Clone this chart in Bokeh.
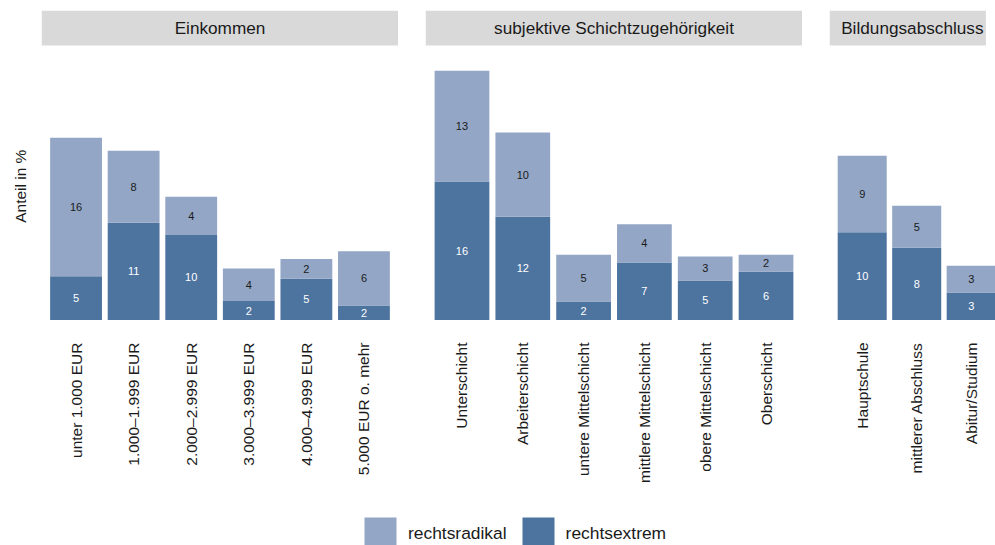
import math
from bokeh.plotting import figure
from bokeh.models import (ColumnDataSource, Range1d, FixedTicker, BoxAnnotation,
                          Label, Legend, LegendItem)
from bokeh.layouts import column, row
from bokeh.core.properties import value
from bokeh.embed import file_html
from bokeh.resources import INLINE

# ---------------- data ----------------
panel_titles = ["Einkommen", "subjektive Schichtzugehörigkeit", "Bildungsabschluss"]

einkommen_cats = ["unter 1.000 EUR", "1.000–1.999 EUR", "2.000–2.999 EUR",
                  "3.000–3.999 EUR", "4.000–4.999 EUR", "5.000 EUR o. mehr"]
einkommen_extrem = [5.1, 11.3, 9.9, 2.2, 4.8, 1.7]
einkommen_radikal = [16.1, 8.4, 4.45, 3.8, 2.3, 6.3]

schicht_cats = ["Unterschicht", "Arbeiterschicht", "untere Mittelschicht",
                "mittlere Mittelschicht", "obere Mittelschicht", "Oberschicht"]
schicht_extrem = [16.1, 12.0, 2.15, 6.7, 4.6, 5.6]
schicht_radikal = [12.9, 9.8, 5.45, 4.45, 2.8, 2.0]

bildung_cats = ["Hauptschule", "mittlerer Abschluss", "Abitur/Studium"]
bildung_extrem = [10.2, 8.4, 3.2]
bildung_radikal = [8.9, 4.9, 3.1]

series_names = ["rechtsradikal", "rechtsextrem"]
y_title = "Anteil in %"

# ---------------- style ----------------
FONT = "Liberation Sans"
LIGHT = "#93a6c5"
DARK = "#4d739f"
STRIP = "#d9d9d9"
TXT = "#1a1a1a"

ROW_H = 500
Y0, Y1 = -1.57, 36.0
STRIP_BOTTOM = 31.92
STRIP_MID = 33.95


def panel(title, cats, ext, rad, width, left, x_end=None, strip_right=None,
          title_x=None):
    n = len(cats)
    xs = list(range(n))
    if x_end is None:
        x_end = n - 1 + 0.6
    tot = [e + r for e, r in zip(ext, rad)]
    src = ColumnDataSource(dict(
        x=xs, ext=ext, rad=rad, tot=tot,
        ext_mid=[e / 2 for e in ext],
        rad_mid=[e + r / 2 for e, r in zip(ext, rad)],
        ext_lbl=[str(round(e)) for e in ext],
        rad_lbl=[str(round(r)) for r in rad],
    ))
    p = figure(width=width, height=ROW_H, x_range=Range1d(-0.6, x_end),
               y_range=Range1d(Y0, Y1), output_backend="svg",
               toolbar_location=None, y_axis_location=None,
               min_border_left=left, min_border_right=0,
               min_border_top=10, min_border_bottom=167)
    p.grid.visible = False
    p.outline_line_color = None
    p.background_fill_color = "white"
    p.border_fill_color = "white"

    p.vbar(x="x", bottom=0, top="ext", width=0.9, fill_color=DARK,
           line_color=None, source=src)
    p.vbar(x="x", bottom="ext", top="tot", width=0.9, fill_color=LIGHT,
           line_color=None, source=src)
    p.text(x="x", y="ext_mid", text="ext_lbl", source=src, text_color="white",
           text_font=value(FONT), text_font_size="11px", text_align="center",
           text_baseline="middle")
    p.text(x="x", y="rad_mid", text="rad_lbl", source=src, text_color=TXT,
           text_font=value(FONT), text_font_size="11px", text_align="center",
           text_baseline="middle")

    ax = p.xaxis[0]
    ax.ticker = FixedTicker(ticks=xs)
    ax.major_label_overrides = {i: c for i, c in enumerate(cats)}
    ax.major_label_orientation = math.pi / 2
    ax.major_label_standoff = 9
    ax.major_tick_out = 0
    ax.major_tick_in = 0
    ax.minor_tick_out = 0
    ax.minor_tick_in = 0
    ax.axis_line_color = None
    ax.major_tick_line_color = None
    ax.minor_tick_line_color = None
    ax.major_label_text_font = FONT
    ax.major_label_text_font_size = "15.5px"
    ax.major_label_text_color = TXT

    if strip_right is None:
        p.add_layout(BoxAnnotation(bottom=STRIP_BOTTOM, fill_color=STRIP,
                                   fill_alpha=1, line_color=None))
    else:
        p.add_layout(BoxAnnotation(bottom=STRIP_BOTTOM, right=strip_right,
                                   fill_color=STRIP, fill_alpha=1,
                                   line_color=None))
    if title_x is None:
        title_x = (-0.6 + x_end) / 2
    p.add_layout(Label(x=title_x, y=STRIP_MID, text=title,
                       text_align="center", text_baseline="middle",
                       text_font=FONT, text_font_size="17.2px", text_color=TXT))
    return p


# y-axis title area
yl = figure(width=41, height=ROW_H, output_backend="svg", toolbar_location=None,
            x_axis_location=None, y_axis_location=None, min_border=0,
            x_range=Range1d(0, 41), y_range=Range1d(0, ROW_H))
yl.outline_line_color = None
yl.grid.visible = False
yl.add_layout(Label(x=28, y=228, angle=math.pi / 2, text=y_title,
                    text_align="center", text_baseline="bottom",
                    text_font=FONT, text_font_size="15.5px", text_color=TXT))

p1 = panel(panel_titles[0], einkommen_cats, einkommen_extrem, einkommen_radikal,
           357, 0)
p2 = panel(panel_titles[1], schicht_cats, schicht_extrem, schicht_radikal,
           404, 27)
p3 = panel(panel_titles[2], bildung_cats, bildung_extrem, bildung_radikal,
           193, 27, x_end=2.446, strip_right=2.27, title_x=0.92)

# ---------------- legend ----------------
lf = figure(width=995, height=45, output_backend="svg", toolbar_location=None,
            x_axis_location=None, y_axis_location=None, min_border=0,
            x_range=Range1d(0, 1), y_range=Range1d(0, 1))
lf.outline_line_color = None
lf.grid.visible = False
r_rad = lf.vbar(x=[0], top=[0], bottom=[0], width=0, fill_color=LIGHT,
                line_color=None)
r_ext = lf.vbar(x=[0], top=[0], bottom=[0], width=0, fill_color=DARK,
                line_color=None)
legend = Legend(items=[LegendItem(label=series_names[0], renderers=[r_rad]),
                       LegendItem(label=series_names[1], renderers=[r_ext])],
                orientation="horizontal", location=(360, -8),
                glyph_width=40, glyph_height=40, label_standoff=8, spacing=11,
                padding=0, margin=0, border_line_color=None,
                background_fill_alpha=0, label_text_font=FONT,
                label_text_font_size="17.4px", label_text_color=TXT)
lf.add_layout(legend)

layout = column(row(yl, p1, p2, p3), lf)

open("out.html", "w").write(file_html(layout, INLINE))
